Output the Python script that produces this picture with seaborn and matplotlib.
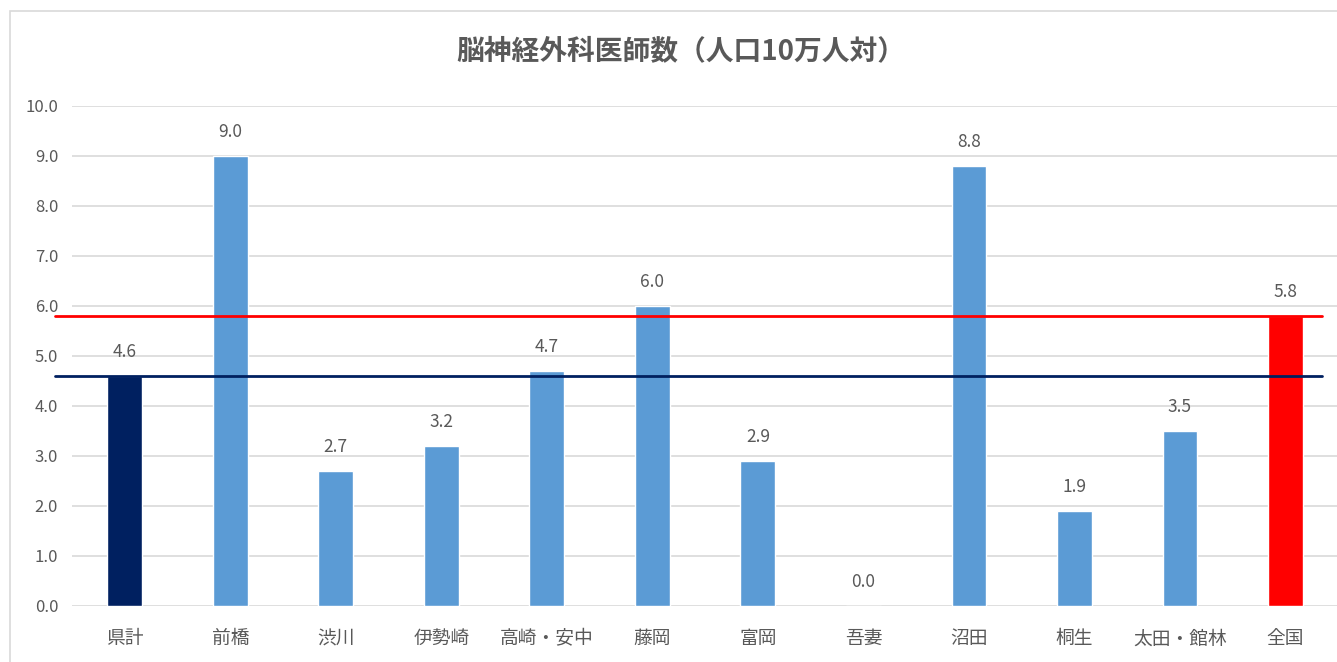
import matplotlib
matplotlib.use("Agg")
import matplotlib.pyplot as plt
from matplotlib.patches import Rectangle
import seaborn as sns

# Neurosurgeons per 100,000 population by medical area
categories = ["県計", "前橋", "渋川", "伊勢崎", "高崎・安中", "藤岡", "富岡", "吾妻", "沼田", "桐生", "太田・館林", "全国"]
values = [4.6, 9.0, 2.7, 3.2, 4.7, 6.0, 2.9, 0.0, 8.8, 1.9, 3.5, 5.8]
prefecture_avg = 4.6
national_avg = 5.8
y_ticks = [0, 1, 2, 3, 4, 5, 6, 7, 8, 9, 10]

NAVY = "#002060"
BLUE = "#5B9BD5"
RED = "#FF0000"
GRAY_TEXT = "#595959"
GRID = "#D9D9D9"

sns.set_theme(style="white")
plt.rcParams["font.family"] = ["Noto Sans CJK JP", "DejaVu Sans"]

bar_colors = [NAVY] + [BLUE] * (len(categories) - 2) + [RED]

fig = plt.figure(figsize=(13.37, 6.62), dpi=100)
ax = fig.add_axes([0.0539, 0.0846, 0.947, 0.7554])

sns.barplot(x=categories, y=values, hue=categories, palette=bar_colors,
            legend=False, width=0.33, saturation=1, ax=ax, zorder=3)

ax.set_ylim(0, 10)
ax.set_xlim(-0.5, len(categories) - 0.5)
ax.set_yticks(y_ticks)
ax.set_yticklabels([f"{t:.1f}" for t in y_ticks])
ax.yaxis.grid(True, color=GRID, linewidth=1.2, zorder=0)
ax.set_axisbelow(True)
for s in ax.spines.values():
    s.set_visible(False)
ax.tick_params(axis="y", length=0, labelsize=12, labelcolor=GRAY_TEXT, pad=10)
ax.tick_params(axis="x", length=0, labelsize=13.5, labelcolor=GRAY_TEXT, pad=16)
ax.set_xlabel("")
ax.set_ylabel("")

# Reference lines for national and prefecture averages
ax.plot([-0.66, 11.35], [national_avg, national_avg], color=RED, linewidth=2,
        clip_on=False, zorder=4)
ax.plot([-0.66, 11.35], [prefecture_avg, prefecture_avg], color=NAVY, linewidth=2,
        clip_on=False, zorder=4)

# Value labels
for i, v in enumerate(values):
    ax.annotate(f"{v:.1f}", xy=(i, v), xytext=(0, 17), textcoords="offset points",
                ha="center", va="center", fontsize=12.5, color=GRAY_TEXT, zorder=5)

fig.text(0.509, 0.922, "脳神経外科医師数（人口10万人対）", ha="center", va="center",
         fontsize=20, fontweight="bold", color=GRAY_TEXT)

# Chart frame
fig.patches.append(Rectangle((10 / 1337, -0.05), 1.2, 1 - 11 / 662 + 0.05,
                             transform=fig.transFigure, fill=False,
                             edgecolor=GRID, linewidth=1.2))

fig.savefig("out.png", dpi=100, facecolor="white")
